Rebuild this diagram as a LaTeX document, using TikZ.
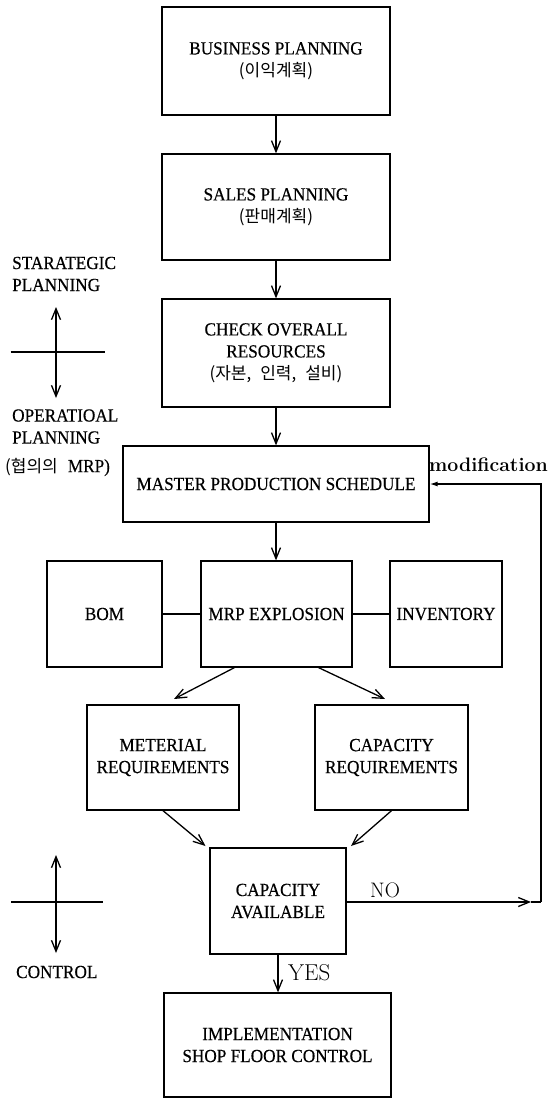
\documentclass[tikz,border=0pt]{standalone}
\usepackage{fontspec}
\newfontfamily\tmfont{Liberation Serif}[FakeStretch=0.93,FakeBold=0.4]
\newfontfamily\krfont{Noto Sans CJK KR}
\usetikzlibrary{arrows.meta}
\newcommand\hangul[1]{{\krfont\fontsize{17}{22}\selectfont #1}}
\begin{document}
\begin{tikzpicture}[x=1pt,y=-1pt,
  box/.style={draw,line width=1.3pt,align=center,inner sep=0pt,font=\tmfont\fontsize{18.5}{22}\selectfont},
  lbl/.style={align=left,inner sep=0pt,font=\tmfont\fontsize{18.5}{22}\selectfont},
  arr/.style={line width=1.3pt,-{Straight Barb[length=11pt,width=9pt,line width=1.3pt]}},
  modarr/.style={line width=1.3pt,-{Latex[length=8pt,width=5pt]}},
  ln/.style={line width=1.3pt}]
\useasboundingbox (0,0) rectangle (551,1099);

% boxes
\node[box,minimum width=228pt,minimum height=108pt] (bp) at (276,61) {BUSINESS PLANNING\\\hangul{(이익계획)}};
\node[box,minimum width=228pt,minimum height=106pt] (sp) at (276,207) {SALES PLANNING\\\hangul{(판매계획)}};
\node[box,minimum width=228pt,minimum height=108pt] (co) at (276,353) {CHECK OVERALL\\RESOURCES\\\hangul{(자본,\hspace{9pt}인력,\hspace{9pt}설비)}};
\node[box,minimum width=306pt,minimum height=76pt] (mps) at (276,484) {MASTER PRODUCTION SCHEDULE};
\node[box,minimum width=115pt,minimum height=106pt] (bom) at (104.5,614) {BOM};
\node[box,minimum width=151pt,minimum height=106pt] (mrp) at (276.5,614) {MRP EXPLOSION};
\node[box,minimum width=112pt,minimum height=106pt] (inv) at (446,614) {INVENTORY};
\node[box,minimum width=152pt,minimum height=105pt] (mat) at (163,757.5) {METERIAL\\REQUIREMENTS};
\node[box,minimum width=153pt,minimum height=105pt] (cap) at (391.5,757.5) {CAPACITY\\REQUIREMENTS};
\node[box,minimum width=136pt,minimum height=106pt] (ca) at (278,901) {CAPACITY\\AVAILABLE};
\node[box,minimum width=227pt,minimum height=104pt] (impl) at (277.5,1045) {IMPLEMENTATION\\SHOP FLOOR CONTROL};

% side labels
\node[lbl,anchor=west] (stl) at (12,274) {STARATEGIC\\PLANNING};
\node[lbl,anchor=west] (opl) at (12,426.5) {OPERATIOAL\\PLANNING};
\node[lbl,anchor=west] (nar) at (5,467) {\hangul{(협의의}\hspace{10pt}MRP)};
\node[lbl,anchor=west] (ctl) at (16,972) {CONTROL};
\node[anchor=west,inner sep=0pt,font=\bfseries\fontsize{19.5}{22}\selectfont] (modl) at (429,465) {modification};
\node[anchor=west,inner sep=0pt,font=\fontsize{21}{24}\selectfont] (nol) at (370,890) {NO};
\node[anchor=west,inner sep=0pt,font=\fontsize{23}{26}\selectfont] (yesl) at (288,973) {YES};

% main flow
\draw[arr] (bp.south) -- (sp.north);
\draw[arr] (sp.south) -- (co.north);
\draw[arr] (co.south) -- (mps.north);
\draw[arr] (mps.south) -- (mps.south |- mrp.north);
\draw[ln] (bom) -- (mrp);
\draw[ln] (mrp) -- (inv);
\coordinate (e1) at (174,699);
\coordinate (e2) at (385,699);
\draw[arr] ([xshift=34pt]mrp.south west) -- (e1);
\draw[arr] ([xshift=-34pt]mrp.south east) -- (e2);
\coordinate (e3) at (205.5,846);
\coordinate (e4) at (351,846);
\draw[arr] (mat.south) -- (e3);
\draw[arr] (cap.south) -- (e4);
\draw[arr] (ca.south) -- (ca.south |- impl.north);

% feedback
\coordinate (nt) at (531,902);
\coordinate (nc) at (541,902);
\draw[arr] (ca.east |- nt) -- (nt);
\draw[ln] (nt) -- (nc);
\draw[modarr] (nc) |- (mps.east);

% strategic / operational cross
\coordinate (sc) at (56,352);
\coordinate (st) at (56,307);
\coordinate (sb) at (56,398);
\coordinate (sl) at (10.5,352);
\coordinate (sr) at (104.5,352);
\draw[arr] (sc) -- (st);
\draw[arr] (sc) -- (sb);
\draw[ln] (sl) -- (sr);

% control cross
\coordinate (cc) at (56,902);
\coordinate (ct) at (56,855);
\coordinate (cb) at (56,953);
\coordinate (cl) at (11,902);
\coordinate (cr) at (103,902);
\draw[arr] (cc) -- (ct);
\draw[arr] (cc) -- (cb);
\draw[ln] (cl) -- (cr);
\end{tikzpicture}
\end{document}
